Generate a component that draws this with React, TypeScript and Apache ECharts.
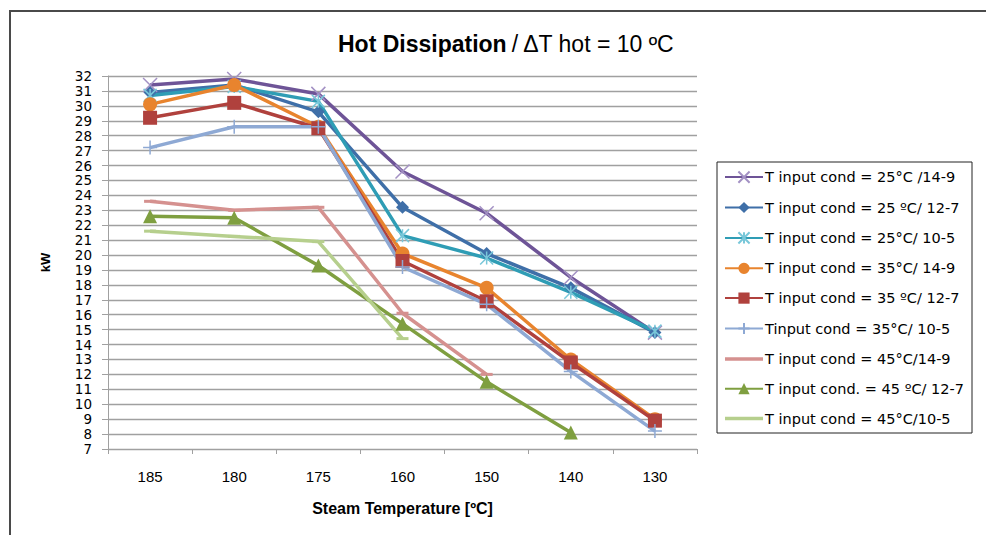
import React, { useEffect, useRef } from "react";
import * as echarts from "echarts";

// Steam temperature categories (ºC)
const categories = ["185", "180", "175", "160", "150", "140", "130"];

// Hot dissipation (kW) per condenser input condition
const cond25_14_9 = [31.4, 31.8, 30.8, 25.6, 22.8, 18.5, 14.8];
const cond25_12_7 = [30.9, 31.4, 29.6, 23.2, 20.1, 17.8, 14.8];
const cond25_10_5 = [30.7, 31.3, 30.3, 21.3, 19.8, 17.5, 14.9];
const cond35_14_9 = [30.1, 31.4, 28.6, 20.1, 17.8, 13.0, 9.0];
const cond35_12_7 = [29.2, 30.2, 28.5, 19.6, 16.9, 12.8, 8.9];
const cond35_10_5 = [27.2, 28.6, 28.6, 19.2, 16.7, 12.2, 8.2];
const cond45_14_9 = [23.6, 23.0, 23.2, 16.1, 12.0, null, null];
const cond45_12_7 = [22.6, 22.5, 19.3, 15.4, 11.5, 8.1, null];
const cond45_10_5 = [21.6, 21.25, 20.9, 14.4, null, null, null];

const seriesNames = [
  "T input cond = 25°C /14-9",
  "T input cond = 25 ºC/ 12-7",
  "T input cond = 25°C/ 10-5",
  "T input cond = 35°C/ 14-9",
  "T input cond = 35 ºC/ 12-7",
  "Tinput cond = 35°C/ 10-5",
  "T input cond = 45°C/14-9",
  "T input cond. = 45 ºC/ 12-7",
  "T input cond = 45°C/10-5",
];

const X_MARK = "path://M0 0L10 10M10 0L0 10";
const STAR_MARK = "path://M0 0L10 10M10 0L0 10M5 0L5 10";
const PLUS_MARK = "path://M5 0L5 10M0 5L10 5";
// plain line icon for the series drawn without a visible marker
const PLAIN_LINE_ICON = "path://M0 0H38V3.5H0Z";

function lineSeries(
  name: string,
  data: (number | null)[],
  color: string,
  symbol: string,
  symbolSize: number | number[],
  markStyle: any
) {
  return {
    name,
    type: "line",
    data,
    symbol,
    symbolSize,
    showSymbol: true,
    connectNulls: false,
    lineStyle: { color, width: 3.5 },
    itemStyle: markStyle,
    emphasis: { disabled: true },
  };
}

export default function App() {
  const ref = useRef<HTMLDivElement>(null);

  useEffect(() => {
    if (!ref.current) return;
    const chart = echarts.init(ref.current, undefined, { renderer: "svg" });

    const gridColor = "#a0a0a0";

    chart.setOption({
      animation: false,
      backgroundColor: "#ffffff",
      title: {
        text: "{b|Hot Dissipation} {n|/ ΔT hot = 10 ºC}",
        left: 333,
        top: 27,
        textStyle: {
          rich: {
            b: { fontFamily: "Liberation Sans", fontWeight: "bold", fontSize: 23, color: "#000" },
            n: { fontFamily: "Liberation Sans", fontWeight: "normal", fontSize: 23, color: "#000" },
          },
        },
      },
      legend: {
        orient: "vertical",
        left: 717,
        top: 162,
        width: 258,
        padding: [7, 8, 7, 7],
        itemWidth: 38,
        itemHeight: 14,
        itemGap: 14.8,
        borderColor: "#222",
        borderWidth: 1,
        textStyle: { fontFamily: "DejaVu Sans", fontSize: 14.5, color: "#000", padding: [0, 0, 0, -3] },
        data: seriesNames.map((n, i) =>
          i === 6 || i === 8 ? { name: n, icon: PLAIN_LINE_ICON } : { name: n }
        ),
      },
      grid: { left: 108, top: 76, width: 589, height: 373 },
      xAxis: {
        type: "category",
        data: categories,
        boundaryGap: true,
        name: "Steam Temperature [ºC]",
        nameLocation: "middle",
        nameGap: 51,
        nameTextStyle: { fontFamily: "Liberation Sans", fontWeight: "bold", fontSize: 16, color: "#000" },
        axisLine: { lineStyle: { color: gridColor, width: 1 } },
        axisTick: { show: true, length: 5, lineStyle: { color: gridColor } },
        axisLabel: { margin: 20, fontFamily: "Liberation Sans", fontSize: 15, color: "#000" },
        splitLine: { show: false },
      },
      yAxis: {
        type: "value",
        min: 7,
        max: 32,
        interval: 1,
        name: "kW",
        nameLocation: "middle",
        nameGap: 56,
        nameRotate: 90,
        nameTextStyle: { fontFamily: "Liberation Sans", fontWeight: "bold", fontSize: 13, color: "#000" },
        axisLine: { show: true, lineStyle: { color: gridColor, width: 1 } },
        axisTick: { show: true, length: 6, lineStyle: { color: gridColor } },
        axisLabel: { margin: 16, fontFamily: "DejaVu Sans", fontSize: 13.5, color: "#000" },
        splitLine: { show: true, lineStyle: { color: gridColor, width: 1.3 } },
      },
      graphic: [
        {
          type: "rect",
          shape: { x: 10, y: 11, width: 1000, height: 560 },
          style: { fill: "none", stroke: "#4a4a4a", lineWidth: 2 },
          silent: true,
        },
      ],
      series: [
        lineSeries(seriesNames[0], cond25_14_9, "#6e5497", X_MARK, 14, {
          color: "none",
          borderColor: "#a391c4",
          borderWidth: 1.5,
        }),
        lineSeries(seriesNames[1], cond25_12_7, "#3f6fa8", "diamond", 13, {
          color: "#3f6fa8",
        }),
        lineSeries(seriesNames[2], cond25_10_5, "#2f9db5", STAR_MARK, 13, {
          color: "none",
          borderColor: "#78c7d9",
          borderWidth: 1.5,
        }),
        lineSeries(seriesNames[3], cond35_14_9, "#e8842e", "circle", 14, {
          color: "#e8842e",
        }),
        lineSeries(seriesNames[4], cond35_12_7, "#b0413d", "rect", 14, {
          color: "#b0413d",
        }),
        lineSeries(seriesNames[5], cond35_10_5, "#8ea9d4", PLUS_MARK, 14, {
          color: "none",
          borderColor: "#8ea9d4",
          borderWidth: 1.5,
        }),
        lineSeries(seriesNames[6], cond45_14_9, "#d5918f", "rect", [12, 3], {
          color: "#d5918f",
        }),
        lineSeries(seriesNames[7], cond45_12_7, "#7f9f40", "triangle", 14, {
          color: "#7f9f40",
        }),
        lineSeries(seriesNames[8], cond45_10_5, "#b6cf8d", "rect", [12, 3], {
          color: "#b6cf8d",
        }),
      ],
    });

    return () => chart.dispose();
  }, []);

  return (
    <div
      ref={ref}
      style={{ position: "fixed", left: 0, top: 0, width: 986, height: 535, background: "#fff" }}
    />
  );
}
